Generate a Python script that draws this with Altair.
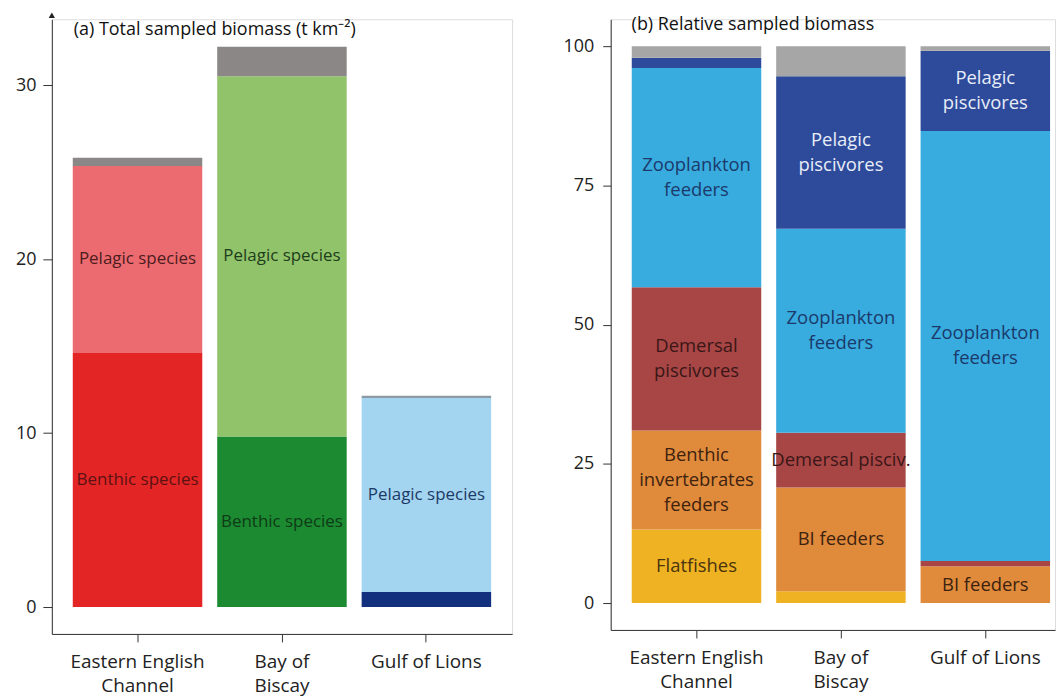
import json
import altair as alt
import pandas as pd

FONT = "Open Sans"

# ---------------- data ----------------
regions = ["Eastern English Channel", "Bay of Biscay", "Gulf of Lions"]
region_lines = [["Eastern English", "Channel"], ["Bay of", "Biscay"], ["Gulf of Lions"]]

# Panel (a): total sampled biomass (t km-2)
a_segments = ["Benthic species", "Pelagic species", "Other"]
a_benthic = [14.6, 9.8, 0.87]
a_pelagic = [10.75, 20.7, 11.15]
a_other = [0.47, 1.7, 0.12]
a_benthic_label = ["Benthic species", "Benthic species", ""]
a_pelagic_label = ["Pelagic species", "Pelagic species", "Pelagic species"]
a_other_label = ["", "", ""]

# Panel (b): relative sampled biomass (%)
b_groups = ["Flatfishes", "BI feeders", "Demersal piscivores",
            "Zooplankton feeders", "Pelagic piscivores", "Other"]
b_flatfishes = [13.2, 2.1, 0.0]
b_bi_feeders = [17.8, 18.65, 6.6]
b_demersal = [25.7, 9.85, 0.97]
b_zooplankton = [39.4, 36.6, 77.2]
b_pelagic_pisc = [1.8, 27.4, 14.4]
b_other = [2.1, 5.4, 0.8]
b_flat_label = ["Flatfishes", "", ""]
b_bi_label = ["Benthic\ninvertebrates\nfeeders", "BI feeders", "BI feeders"]
b_dem_label = ["Demersal\npiscivores", "Demersal pisciv.", ""]
b_zoo_label = ["Zooplankton\nfeeders", "Zooplankton\nfeeders", "Zooplankton\nfeeders"]
b_pel_label = ["", "Pelagic\npiscivores", "Pelagic\npiscivores"]
b_other_label = ["", "", ""]

# ---------------- styles ----------------
a_fill = {
    "Eastern English Channel": ["#e32526", "#ec6b70", "#8b8787"],
    "Bay of Biscay": ["#1b8a31", "#91c36b", "#8b8787"],
    "Gulf of Lions": ["#13307e", "#a3d4f0", "#8d9aa6"],
}
a_text = {
    "Eastern English Channel": ["#5c1212", "#4d1c1e", "#000000"],
    "Bay of Biscay": ["#0f3b17", "#203d1a", "#000000"],
    "Gulf of Lions": ["#ffffff", "#1c3a66", "#000000"],
}
b_fill = ["#eeb223", "#e08a3b", "#a84646", "#38abdf", "#2e4a9b", "#a6a6a6"]
b_text = ["#4a3410", "#3d2210", "#3a1616", "#1b3a6b", "#e8eef8", "#000000"]


def build(values, labels, groups):
    rows = []
    for ri, r in enumerate(regions):
        start = 0.0
        for gi, g in enumerate(groups):
            v = values[gi][ri]
            lab = labels[gi][ri]
            rows.append({"region": r, "group": g, "key": f"{r}|{g}",
                         "start": start, "end": start + v,
                         "mid": start + v / 2, "label": lab,
                         "nlines": lab.count("\n") + 1})
            start += v
    return pd.DataFrame(rows)


df_a = build([a_benthic, a_pelagic, a_other],
             [a_benthic_label, a_pelagic_label, a_other_label], a_segments)
df_b = build([b_flatfishes, b_bi_feeders, b_demersal, b_zooplankton, b_pelagic_pisc, b_other],
             [b_flat_label, b_bi_label, b_dem_label, b_zoo_label, b_pel_label, b_other_label],
             b_groups)

a_keys = [f"{r}|{g}" for r in regions for g in a_segments]
a_fill_range = [a_fill[r][i] for r in regions for i in range(len(a_segments))]
a_text_range = [a_text[r][i] for r in regions for i in range(len(a_segments))]

label_map = "".join(
    f"datum.value == {json.dumps(r)} ? {json.dumps(l)} : " for r, l in zip(regions, region_lines)
) + "datum.label"


def x_enc(inner, outer, align):
    return alt.X(
        "region:N", sort=regions,
        scale=alt.Scale(domain=regions, paddingInner=inner, paddingOuter=outer, align=align),
        axis=alt.Axis(title=None, labelAngle=0, labelExpr=label_map, labelFont=FONT,
                      labelFontSize=19, labelColor="#222", labelPadding=11,
                      labelLineHeight=24, labelBaseline="top", tickSize=8,
                      tickColor="#333", domainColor="#333", grid=False),
    )


def y_axis(values, tick, pad):
    return alt.Axis(title=None, values=values, labelFont=FONT, labelFontSize=18,
                    labelColor="#222", tickSize=tick, labelPadding=pad,
                    tickColor="#333", domainColor="#333", grid=False)


def text_layers(df, yscale, color, size, lh):
    layers = []
    for n in sorted(set(df.loc[df["label"] != "", "nlines"])):
        layers.append(
            alt.Chart(df).transform_filter(f"datum.label != '' && datum.nlines == {n}")
            .mark_text(font=FONT, fontSize=size, lineBreak="\n", lineHeight=lh,
                       align="center", baseline="middle", dy=-(n - 1) * lh / 2)
            .encode(x=alt.X("region:N", sort=regions),
                    y=alt.Y("mid:Q", scale=yscale),
                    text="label:N", color=color)
        )
    return layers


one = pd.DataFrame({"t": ["(a) Total sampled biomass (t km\u207b\u00b2)"]})
one_b = pd.DataFrame({"t": ["(b) Relative sampled biomass"]})

# ---------------- panel (a) ----------------
ya = alt.Scale(domain=[-1.546, 33.78], nice=False, zero=False)
bars_a = alt.Chart(df_a).mark_bar().encode(
    x=x_enc(0.1034, 0.145, 0.5),
    y=alt.Y("start:Q", scale=ya, axis=y_axis([0, 10, 20, 30], 9, 7)),
    y2="end:Q",
    color=alt.Color("key:N", scale=alt.Scale(domain=a_keys, range=a_fill_range), legend=None),
)
text_a = text_layers(
    df_a, ya,
    alt.Color("key:N", scale=alt.Scale(domain=a_keys, range=a_text_range), legend=None),
    17, 22)
title_a = alt.Chart(one).mark_text(font=FONT, fontSize=18, align="left",
                                   baseline="alphabetic", color="#111").encode(
    x=alt.value(22), y=alt.value(16), text="t:N")
arrow_a = alt.Chart(one).mark_point(shape="triangle-up", filled=True, size=40,
                                    color="#222", opacity=1).encode(
    x=alt.value(0), y=alt.value(-4))

panel_a = alt.layer(bars_a, *text_a, title_a, arrow_a).resolve_scale(
    color="independent").properties(width=462, height=617)

# ---------------- panel (b) ----------------
yb = alt.Scale(domain=[-4.83, 104.83], nice=False, zero=False)
bars_b = alt.Chart(df_b).mark_bar().encode(
    x=x_enc(0.1034, 0.09, 0.81),
    y=alt.Y("start:Q", scale=yb, axis=y_axis([0, 25, 50, 75, 100], 8, 9)),
    y2="end:Q",
    color=alt.Color("group:N", scale=alt.Scale(domain=b_groups, range=b_fill), legend=None),
)
text_b = text_layers(
    df_b, yb,
    alt.Color("group:N", scale=alt.Scale(domain=b_groups, range=b_text), legend=None),
    18.5, 25)
title_b = alt.Chart(one_b).mark_text(font=FONT, fontSize=18, align="left",
                                     baseline="alphabetic", color="#111").encode(
    x=alt.value(21), y=alt.value(11), text="t:N")

panel_b = alt.layer(bars_b, *text_b, title_b).resolve_scale(
    color="independent").properties(width=446, height=613)

chart = alt.hconcat(panel_a, panel_b, spacing=49).properties(
    padding={"left": 6, "top": 2, "right": 0, "bottom": 0}
).configure_view(stroke=None).configure(background="white")

chart.save("out.html", embed_options={"renderer": "svg", "actions": False})
